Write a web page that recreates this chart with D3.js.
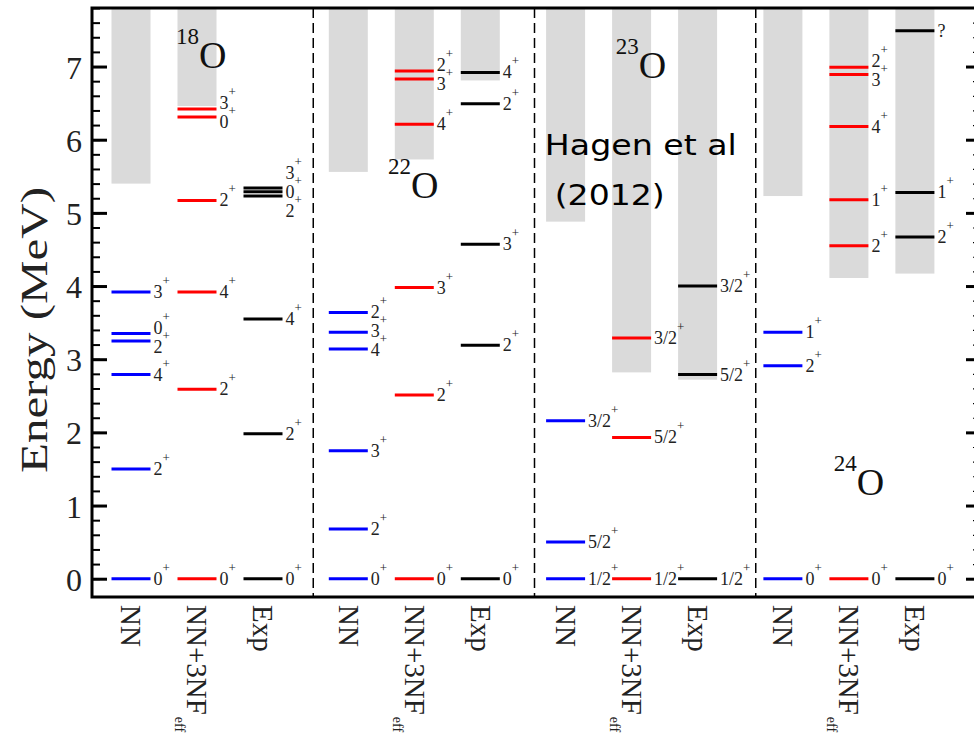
<!DOCTYPE html>
<html>
<head>
<meta charset="utf-8">
<script src="https://cdn.jsdelivr.net/npm/d3@7"></script>
<style>
body { margin: 0; background: #fff; }
</style>
</head>
<body>
<script>
// Energy spectra of oxygen isotopes: NN, NN+3NF(eff) and experiment
const width = 974;
const height = 743;
const serif = "'Liberation Serif', 'Times New Roman', serif";

const methods = ["NN", "NN+3NF", "Exp"];
const methodColors = ["#0000ff", "#ff0000", "#000000"];
const massNumbers = ["18", "22", "23", "24"];

// levels: [energy in MeV, spin-parity], one list per method (NN, NN+3NF, Exp)
const levels18O = [
  [[0, "0+"], [1.50, "2+"], [2.79, "4+"], [3.25, "2+"], [3.35, "0+"], [3.92, "3+"]],
  [[0, "0+"], [2.59, "2+"], [3.92, "4+"], [5.17, "2+"], [6.31, "0+"], [6.42, "3+"]],
  [[0, "0+"], [1.98, "2+"], [3.55, "4+"], [5.23, "2+"], [5.29, "0+"], [5.34, "3+"]]
];
const levels22O = [
  [[0, "0+"], [0.68, "2+"], [1.75, "3+"], [3.14, "4+"], [3.37, "3+"], [3.64, "2+"]],
  [[0, "0+"], [2.51, "2+"], [3.98, "3+"], [6.21, "4+"], [6.83, "3+"], [6.94, "2+"]],
  [[0, "0+"], [3.19, "2+"], [4.57, "3+"], [6.49, "2+"], [6.92, "4+"]]
];
const levels23O = [
  [[0, "1/2+"], [0.50, "5/2+"], [2.16, "3/2+"]],
  [[0, "1/2+"], [1.93, "5/2+"], [3.29, "3/2+"]],
  [[0, "1/2+"], [2.79, "5/2+"], [4.00, "3/2+"]]
];
const levels24O = [
  [[0, "0+"], [2.91, "2+"], [3.37, "1+"]],
  [[0, "0+"], [4.55, "2+"], [5.18, "1+"], [6.18, "4+"], [6.89, "3+"], [6.99, "2+"]],
  [[0, "0+"], [4.67, "2+"], [5.28, "1+"], [7.49, "?"]]
];
const allLevels = [levels18O, levels22O, levels23O, levels24O];

// start of the grey continuum band per nucleus and method (null = none)
const thresholds = [
  [5.40, 6.46, null],
  [5.56, 5.73, 6.81],
  [4.88, 2.82, 2.72],
  [5.23, 4.11, 4.17]
];

// nucleus label: [column offset inside panel, energy of baseline]
const nucleusLabelPos = [[0.68, 6.98], [0.60, 5.20], [0.76, 6.85], [0.77, 1.14]];

const yTicks = [0, 1, 2, 3, 4, 5, 6, 7];
const yMinorTicks = d3.range(0, 7.81, 0.2);

const svg = d3.select("body").append("svg")
  .attr("width", width)
  .attr("height", height);

const y = d3.scaleLinear().domain([-0.25, 7.8]).range([597, 8]);
// column position: panel * 3.2924 + method index
const x = d3.scaleLinear().domain([0, 1]).range([131, 197]);
const panelX = d3.scaleLinear().domain([0, 4]).range([92, 977]);
const colU = (p, j) => p * 3.2924 + j;
const halfW = 19.5;

// grey bands
thresholds.forEach((row, p) => {
  row.forEach((t, j) => {
    if (t === null) return;
    svg.append("rect")
      .attr("x", x(colU(p, j)) - halfW)
      .attr("y", y(7.8))
      .attr("width", halfW * 2)
      .attr("height", y(t) - y(7.8))
      .attr("fill", "#dadada");
  });
});

// dashed separators
svg.selectAll(".sep")
  .data([1, 2, 3])
  .join("line")
  .attr("x1", d => panelX(d)).attr("x2", d => panelX(d))
  .attr("y1", y(7.8)).attr("y2", y(-0.25))
  .attr("stroke", "#000")
  .attr("stroke-width", 1.5)
  .attr("stroke-dasharray", "10,5");

function spread(ys, gap) {
  const out = ys.slice();
  for (let it = 0; it < 60; it++) {
    for (let i = 1; i < out.length; i++) {
      const d = out[i - 1] - out[i];
      if (d < gap) {
        const s = (gap - d) / 2;
        out[i - 1] += s;
        out[i] -= s;
      }
    }
  }
  return out;
}

// levels and labels
allLevels.forEach((nuc, p) => {
  nuc.forEach((lv, j) => {
    const cx = x(colU(p, j));
    const g = svg.append("g");
    g.selectAll("line")
      .data(lv)
      .join("line")
      .attr("x1", cx - halfW).attr("x2", cx + halfW)
      .attr("y1", d => y(d[0])).attr("y2", d => y(d[0]))
      .attr("stroke", methodColors[j])
      .attr("stroke-width", 3);

    const sorted = lv.slice().sort((a, b) => a[0] - b[0]);
    const ly = spread(sorted.map(d => y(d[0])), 19);
    sorted.forEach((d, i) => {
      const t = g.append("text")
        .attr("x", cx + halfW + 3)
        .attr("y", ly[i] + 6)
        .attr("font-size", 18)
        .style("font-family", serif)
        .attr("fill", "#222");
      const base = d[1].replace("+", "");
      t.append("tspan").text(base);
      if (d[1].endsWith("+")) {
        t.append("tspan").attr("font-size", 13).attr("dy", -13).text("+");
      }
    });
  });
});

// nucleus labels
massNumbers.forEach((a, p) => {
  const pos = nucleusLabelPos[p];
  const t = svg.append("text")
    .attr("x", x(p * 3.2924 + pos[0]))
    .attr("y", y(pos[1]))
    .style("font-family", serif)
    .attr("fill", "#111");
  t.append("tspan").attr("font-size", 23).attr("dy", -24).text(a);
  t.append("tspan").attr("font-size", 38).attr("dy", 24).text("O");
});

// Hagen et al annotation
const hagen = [["Hagen et al", 6.27, 5.79, 192], ["(2012)", 6.42, 5.11, 110]];
hagen.forEach(h => {
  svg.append("text")
    .attr("x", x(h[1]))
    .attr("y", y(h[2]))
    .attr("font-size", 29)
    .style("font-family", "'DejaVu Sans', sans-serif")
    .attr("textLength", h[3])
    .attr("lengthAdjust", "spacingAndGlyphs")
    .attr("fill", "#000")
    .text(h[0]);
});

// frame
svg.append("path")
  .attr("d", `M${width + 10},${y(7.8)} H92 V${y(-0.25)} H${width + 10}`)
  .attr("fill", "none")
  .attr("stroke", "#000")
  .attr("stroke-width", 3);

// left axis
const leftMajor = svg.append("g")
  .attr("transform", "translate(92,0)")
  .call(d3.axisLeft(y).tickValues(yTicks).tickSize(-15).tickPadding(10).tickFormat(d3.format("d")));
leftMajor.select(".domain").remove();
leftMajor.selectAll("line").attr("stroke-width", 3);
leftMajor.selectAll("text")
  .attr("font-size", 32)
  .attr("dy", "0.36em")
  .style("font-family", serif)
  .attr("fill", "#222");

const leftMinor = svg.append("g")
  .attr("transform", "translate(92,0)")
  .call(d3.axisLeft(y).tickValues(yMinorTicks).tickSize(-8).tickFormat(""));
leftMinor.select(".domain").remove();
leftMinor.selectAll("line").attr("stroke-width", 2);

// right axis (frame edge just outside the view)
const rightMajor = svg.append("g")
  .attr("transform", "translate(980,0)")
  .call(d3.axisRight(y).tickValues(yTicks).tickSize(-14).tickFormat(""));
rightMajor.select(".domain").remove();
rightMajor.selectAll("line").attr("stroke-width", 3);

const rightMinor = svg.append("g")
  .attr("transform", "translate(980,0)")
  .call(d3.axisRight(y).tickValues(yMinorTicks.filter(v => v % 1 !== 0)).tickSize(-7).tickFormat(""));
rightMinor.select(".domain").remove();
rightMinor.selectAll("line").attr("stroke-width", 1.2).attr("stroke-dasharray", "1,2");

// y label
svg.append("text")
  .attr("transform", "translate(47,330) rotate(-90)")
  .attr("text-anchor", "middle")
  .attr("font-size", 37)
  .style("font-family", serif)
  .attr("textLength", 286)
  .attr("lengthAdjust", "spacingAndGlyphs")
  .attr("fill", "#222")
  .text("Energy (MeV)");

// method labels under each column
massNumbers.forEach((a, p) => {
  methods.forEach((m, j) => {
    const t = svg.append("text")
      .attr("transform", `translate(${x(colU(p, j))},605) rotate(90)`)
      .attr("dy", "0.33em")
      .attr("font-size", 29)
      .style("font-family", serif)
      .attr("fill", "#222");
    t.append("tspan").text(m);
    if (m === "NN+3NF") {
      t.append("tspan").attr("font-size", 14).attr("dy", 12).attr("dx", 2).text("eff");
    }
  });
});
</script>
</body>
</html>
